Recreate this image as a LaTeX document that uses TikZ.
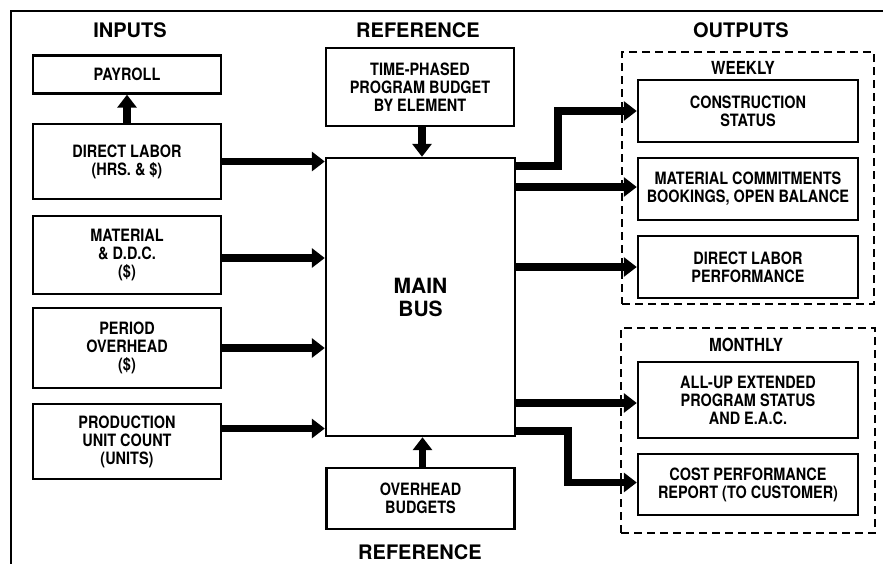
\documentclass[tikz,border=0pt]{standalone}
\usepackage{fontspec}
\setmainfont{TeX Gyre Heros}
\newfontfamily\condfont{TeX Gyre Heros}[FakeStretch=0.85]
\usetikzlibrary{arrows.meta}
\begin{document}
\begin{tikzpicture}[x=1pt,y=-1pt,
  box/.style={draw, line width=2.4pt, align=center, inner sep=2pt,
    font=\condfont\bfseries\fontsize{17}{18}\selectfont},
  inbox/.style={box, minimum width=188pt},
  outbox/.style={box, minimum width=220pt},
  head/.style={font=\bfseries\fontsize{20}{22}\selectfont},
  subhead/.style={font=\condfont\bfseries\fontsize{18}{20}\selectfont},
  group/.style={draw, line width=2pt, dash pattern=on 8pt off 5pt},
  bigarrow/.style={line width=7.5pt, line join=miter,
    -{Triangle[width=19pt,length=13pt]}},
  frame/.style={draw, line width=2pt}]
\useasboundingbox (0,0) rectangle (883,563);
\fill[white] (0,0) rectangle (883,563);
% outer frame (right and bottom edges lie outside the page)
\draw[frame] (11,580) |- (900,11);

% column headings
\node[head] (hin)  at (130,30) {INPUTS};
\node[head] (hreft) at (418,30) {REFERENCE};
\node[head] (hout) at (741,30) {OUTPUTS};
\node[head] (hrefb) at (420,552) {REFERENCE};

% inputs
\node[inbox, minimum height=38pt] (pay) at (127,74.5) {PAYROLL};
\node[inbox, minimum height=75pt] (dl)  at (127,161.5) {DIRECT LABOR\\(HRS. \& \$)};
\node[inbox, minimum height=78pt] (mat) at (127,255) {MATERIAL\\\& D.D.C.\\(\$)};
\node[inbox, minimum height=80pt] (po)  at (127,348) {PERIOD\\OVERHEAD\\(\$)};
\node[inbox, minimum height=75pt] (pu)  at (127,441.5) {PRODUCTION\\UNIT COUNT\\(UNITS)};

% reference budgets and main bus
\node[inbox, minimum height=78pt] (tp) at (420,87) {TIME-PHASED\\PROGRAM BUDGET\\BY ELEMENT};
\node[box, minimum width=189pt, minimum height=278pt,
  font=\bfseries\fontsize{21}{23}\selectfont] (bus) at (420.5,297) {MAIN\\BUS};
\node[inbox, minimum height=61pt] (ob) at (420.5,498.5) {OVERHEAD\\BUDGETS};

% output groups
\node[group, minimum width=252pt, minimum height=252pt] (wk) at (748,178) {};
\node[group, minimum width=254pt, minimum height=205pt] (mo) at (748,430.5) {};
\node[subhead] (wkl) at (743,68) {WEEKLY};
\node[subhead] (mol) at (746,345) {MONTHLY};

% outputs
\node[outbox, minimum height=62pt] (cs)  at (748,111) {CONSTRUCTION\\STATUS};
\node[outbox, minimum height=62pt] (mc)  at (748,189) {MATERIAL COMMITMENTS\\BOOKINGS, OPEN BALANCE};
\node[outbox, minimum height=62pt] (dlp) at (748,267) {DIRECT LABOR\\PERFORMANCE};
\node[outbox, minimum height=76pt] (au)  at (748,400) {ALL-UP EXTENDED\\PROGRAM STATUS\\AND E.A.C.};
\node[outbox, minimum height=61pt] (cp)  at (748,484.5) {COST PERFORMANCE\\REPORT (TO CUSTOMER)};

% input connectors
\draw[bigarrow] (dl.north) -- (pay.south);
\draw[bigarrow] (dl.east) -- (dl.east -| bus.west);
\draw[bigarrow] ([yshift=-3pt]mat.east) -- ([yshift=-3pt]mat.east -| bus.west);
\draw[bigarrow] (po.east) -- (po.east -| bus.west);
\draw[bigarrow] ([yshift=13pt]pu.east) -- ([yshift=13pt]pu.east -| bus.west);
\draw[bigarrow] ([xshift=2pt]tp.south) -- ([xshift=2pt]tp.south |- bus.north);
\draw[bigarrow] ([xshift=2pt]ob.north) -- ([xshift=2pt]ob.north |- bus.south);

% output connectors
\draw[bigarrow] ([yshift=-9pt]bus.north east) -- ++(42,0) |- (cs.west);
\draw[bigarrow] ([yshift=2pt]mc.west -| bus.east) -- ([yshift=2pt]mc.west);
\draw[bigarrow] (dlp.west -| bus.east) -- (dlp.west);
\draw[bigarrow] ([yshift=-3pt]au.west -| bus.east) -- ([yshift=-3pt]au.west);
\draw[bigarrow] ([yshift=6pt]bus.south east) -- ++(52,0) |- ([yshift=2pt]cp.west);
\end{tikzpicture}
\end{document}
